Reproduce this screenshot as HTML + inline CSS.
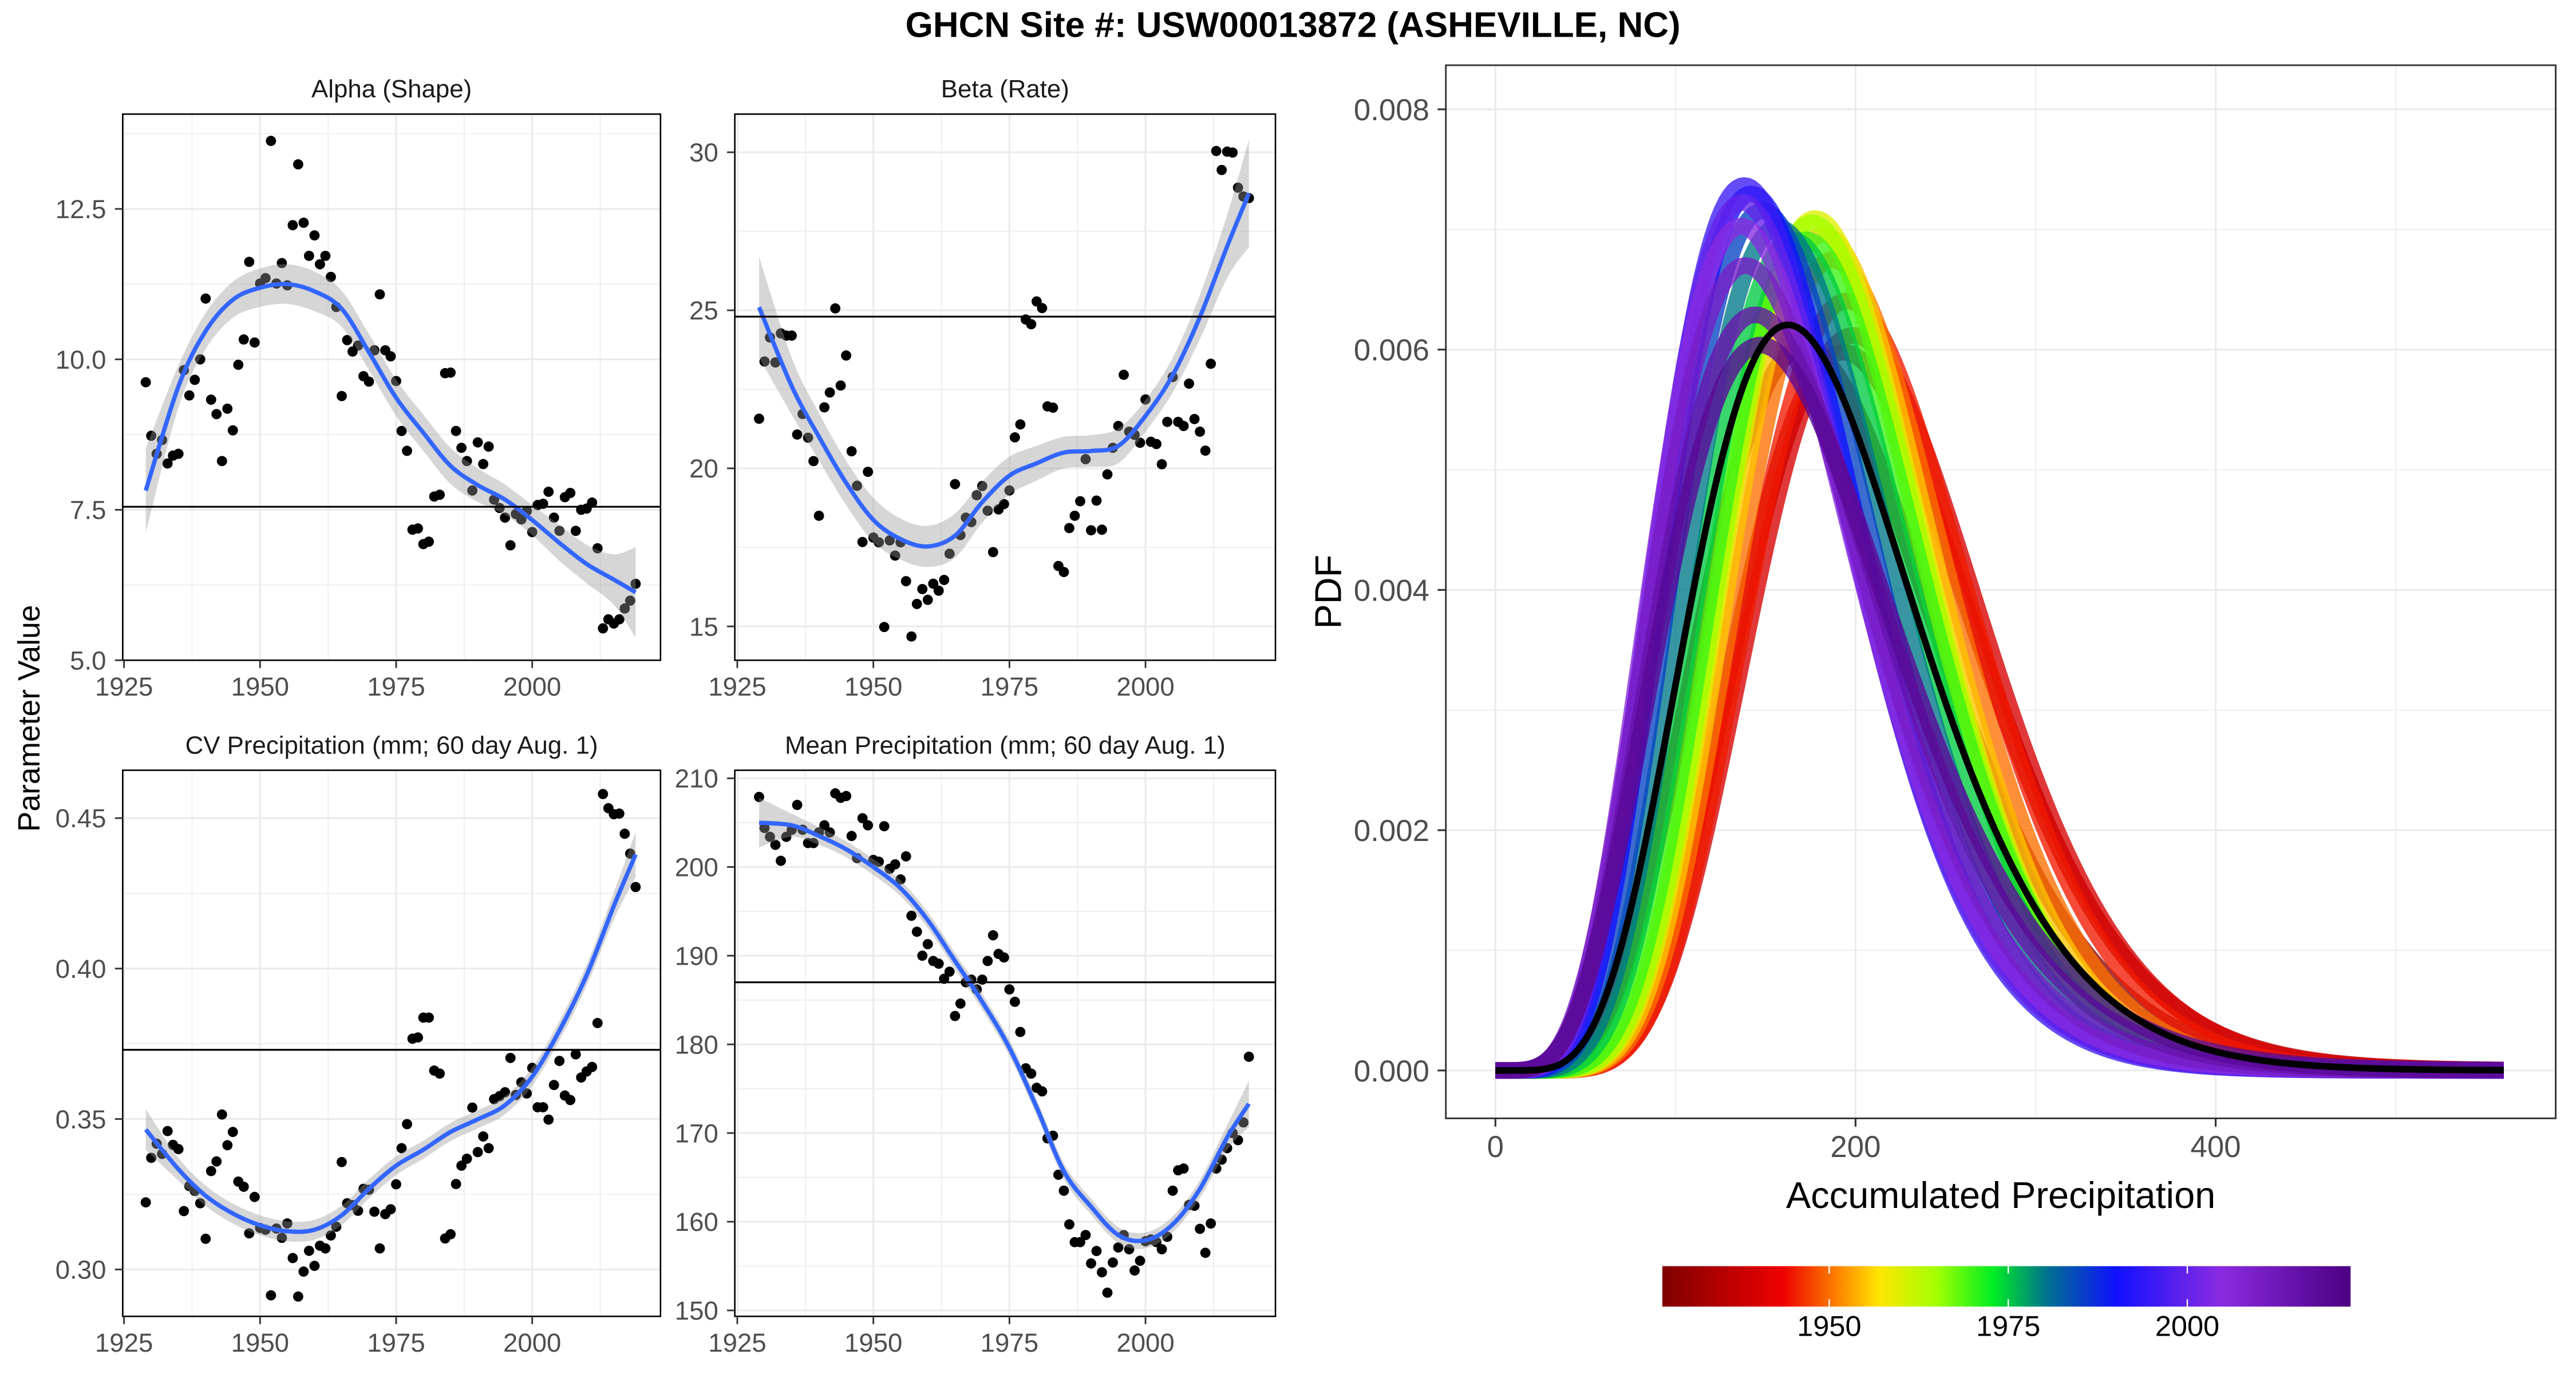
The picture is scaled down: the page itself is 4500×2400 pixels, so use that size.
<!DOCTYPE html>
<html><head><meta charset="utf-8">
<style>
html,body{margin:0;padding:0;background:#fff;}
svg{display:block;}
text{font-family:"Liberation Sans",Arial,sans-serif;}
</style></head>
<body>
<svg id="chart" xmlns="http://www.w3.org/2000/svg" width="4500" height="2400" viewBox="0 0 1560 832">
<rect x="0" y="0" width="1560" height="832" fill="#fff"/>
<text x="783" y="22.4" font-size="21.5" font-weight="bold" text-anchor="middle" fill="#000">GHCN Site #: USW00013872 (ASHEVILLE, NC)</text>
<text transform="translate(24,435) rotate(-90)" font-size="18.5" text-anchor="middle" fill="#000">Parameter Value</text>
<g id="panels"></g>
<g id="pdfpanel"></g>
</svg>
<script>
// ---------- data ----------
const firstYear = 1929;
const alphaPts = [9.62,8.73,8.43,8.66,8.27,8.40,8.43,9.82,9.40,9.66,
10.0,11.01,9.33,9.09,8.31,9.18,8.82,9.91,10.33,11.62,
10.28,11.26,11.35,13.63,11.26,11.6,11.23,12.23,13.24,12.27,
11.72,12.06,11.58,11.72,11.37,10.87,9.39,10.32,10.13,10.23,
9.72,9.63,10.15,11.08,10.15,10.05,9.64,8.81,8.48,7.17,
7.19,6.93,6.97,7.72,7.75,9.77,9.78,8.81,8.53,8.31,
7.82,8.62,8.26,8.55,7.67,7.53,7.37,6.91,7.43,7.34,
7.48,7.13,7.58,7.60,7.80,7.37,7.15,7.71,7.78,7.15,
7.50,7.52,7.62,6.86,5.53,5.68,5.61,5.68,5.86,5.99,6.27];
const betaPts = [21.57,23.38,24.14,23.35,24.27,24.2,24.2,21.07,21.72,20.97,
20.23,18.5,21.93,22.4,25.06,22.62,23.57,20.54,19.45,17.67,
19.89,17.81,17.66,14.98,17.72,17.24,17.66,16.43,14.68,15.71,
16.18,15.84,16.35,16.13,16.47,17.3,19.5,17.89,18.44,18.3,
19.15,19.44,18.66,17.35,18.7,18.87,19.3,20.98,21.39,24.71,
24.56,25.28,25.07,21.96,21.92,16.91,16.72,18.11,18.5,18.96,
20.29,18.04,18.98,18.06,19.81,20.65,21.34,22.96,21.16,21.06,
20.81,22.18,20.84,20.77,20.13,21.47,22.89,21.47,21.34,22.68,
21.56,21.16,20.56,23.31,30.04,29.44,30.02,29.99,28.88,28.6,28.55];
const cvPts = [0.3223,0.3371,0.3418,0.3384,0.346,0.3414,0.340,0.3194,0.3277,0.3261,
0.322,0.3102,0.3327,0.3359,0.3515,0.3413,0.3457,0.3292,0.3275,0.312,
0.3241,0.3138,0.3132,0.2914,0.3136,0.3105,0.3153,0.3038,0.291,0.2993,
0.3062,0.3012,0.3079,0.307,0.3113,0.3142,0.3357,0.322,0.3214,0.3195,
0.3268,0.3265,0.3192,0.307,0.3184,0.32,0.3283,0.3403,0.3483,0.3767,
0.3771,0.3837,0.3837,0.3661,0.3651,0.3103,0.3117,0.3284,0.3345,0.3368,
0.3538,0.339,0.3442,0.3403,0.3566,0.3576,0.3589,0.3703,0.358,0.3622,
0.3585,0.367,0.3539,0.3539,0.3498,0.3613,0.3693,0.3578,0.3563,0.3715,
0.3638,0.3658,0.3673,0.3819,0.458,0.4533,0.4513,0.4515,0.4448,0.4382,0.4271];
const meanPts = [207.9,204.4,203.4,202.5,200.7,203.4,204.2,207.0,204.2,202.7,
202.7,203.9,204.7,203.9,208.3,207.8,208.0,203.5,201.0,205.5,
204.7,200.8,200.6,204.6,199.8,200.3,198.6,201.2,194.5,192.7,
190.0,191.3,189.4,189.1,187.4,188.2,183.2,184.6,187.0,187.3,
186.2,187.3,189.4,192.3,190.2,189.8,186.2,184.8,181.4,177.3,
176.7,175.1,174.7,169.4,169.7,165.3,163.5,159.7,157.7,157.7,
158.5,155.3,156.7,154.3,152.0,155.4,157.1,158.5,156.9,154.5,
155.6,157.8,158.0,157.7,156.9,158.3,163.5,165.8,166.0,161.9,
161.8,159.2,156.5,159.8,166.0,167.0,168.3,170.0,169.2,171.2,178.6];

const smoothYears = [1929,1935,1940,1945,1950,1955,1960,1965,1970,1975,1980,1985,1990,1995,2000,2005,2010,2015,2019];
const alphaSmooth = [7.82,9.55,10.47,10.99,11.19,11.25,11.13,10.84,10.12,9.36,8.78,8.23,7.91,7.67,7.33,6.95,6.6,6.34,6.13];
const alphaSE = [0.7,0.35,0.3,0.3,0.32,0.33,0.33,0.3,0.3,0.3,0.3,0.3,0.28,0.25,0.25,0.3,0.32,0.42,0.75];
const betaSmooth = [25.1,22.6,21.0,19.54,18.37,17.76,17.53,17.87,18.93,19.77,20.16,20.5,20.55,20.71,21.66,22.95,24.79,27.02,28.7];
const betaSE = [1.6,0.9,0.75,0.7,0.7,0.65,0.65,0.7,0.65,0.6,0.55,0.5,0.5,0.55,0.5,0.55,0.7,1.0,1.7];
const cvSmooth = [0.3465,0.3333,0.3245,0.3186,0.3147,0.3127,0.3132,0.318,0.3268,0.3345,0.3398,0.3457,0.3499,0.3546,0.3641,0.3794,0.3978,0.4208,0.4379];
const cvSE = [0.0068,0.0038,0.0034,0.0033,0.0033,0.0033,0.0033,0.0032,0.0032,0.0031,0.003,0.003,0.003,0.003,0.003,0.0032,0.0035,0.0045,0.0075];
const meanSmooth = [205.0,204.7,203.5,202.0,200.0,197.6,194.0,189.4,184.8,179.6,172.9,165.7,161.7,158.5,157.9,159.7,163.7,169.5,173.3];
const meanSE = [2.8,1.3,1.0,0.9,0.9,0.9,0.9,0.9,0.9,0.9,0.9,0.9,0.9,0.9,0.9,0.9,1.0,1.4,2.6];

const refAlpha = 7.55, refBeta = 24.8, refCV = 0.373, refMean = 187.0;

const yearTicks = [1925,1950,1975,2000];
const alphaTicks = [5.0,7.5,10.0,12.5];
const betaTicks = [15,20,25,30];
const cvTicks = [0.30,0.35,0.40,0.45];
const meanTicks = [150,160,170,180,190,200,210];
const pdfXTicks = [0,200,400];
const pdfYTicks = [0.000,0.002,0.004,0.006,0.008];

// ---------- helpers ----------
const NS = "http://www.w3.org/2000/svg";
function mk(tag, attrs, parent){
  const e = document.createElementNS(NS, tag);
  for (const k in attrs) e.setAttribute(k, attrs[k]);
  parent.appendChild(e);
  return e;
}
function crPath(pts){
  let d = "M"+pts[0][0].toFixed(2)+","+pts[0][1].toFixed(2);
  for (let i=0;i<pts.length-1;i++){
    const p0=pts[i-1]||pts[i], p1=pts[i], p2=pts[i+1], p3=pts[i+2]||pts[i+1];
    const c1=[p1[0]+(p2[0]-p0[0])/6, p1[1]+(p2[1]-p0[1])/6];
    const c2=[p2[0]-(p3[0]-p1[0])/6, p2[1]-(p3[1]-p1[1])/6];
    d+=" C"+c1[0].toFixed(2)+","+c1[1].toFixed(2)+" "+c2[0].toFixed(2)+","+c2[1].toFixed(2)+" "+p2[0].toFixed(2)+","+p2[1].toFixed(2);
  }
  return d;
}

const panelsG = document.getElementById("panels");

function drawPanel(cfg){
  const g = mk("g", {}, panelsG);
  
  
  const xs = v => cfg.xAt0 + (v - cfg.xV0) * cfg.xK;
  const ys = v => cfg.yAt0 + (cfg.yV0 - v) * cfg.yK;
  mk("rect", {x:cfg.x0, y:cfg.y0, width:cfg.x1-cfg.x0, height:cfg.y1-cfg.y0, fill:"#fff"}, g);
  const grid = mk("g", {}, g);
  
  
  for (let i=0;i<yearTicks.length;i++){
    const t = yearTicks[i];
    mk("line",{x1:xs(t),x2:xs(t),y1:cfg.y0,y2:cfg.y1,stroke:"#ebebeb","stroke-width":1.1},grid);
    const m = t+12.5; const mx = xs(m);
    if (mx<cfg.x1) mk("line",{x1:mx,x2:mx,y1:cfg.y0,y2:cfg.y1,stroke:"#ebebeb","stroke-width":0.55},grid);
  }
  const ticks = cfg.ticks;
  const step = ticks[1]-ticks[0];
  for (let i=-1;i<ticks.length;i++){
    const base = i<0 ? ticks[0]-step : ticks[i];
    const mid = base + step/2;
    const my = ys(mid);
    if (my>cfg.y0 && my<cfg.y1) mk("line",{x1:cfg.x0,x2:cfg.x1,y1:my,y2:my,stroke:"#ebebeb","stroke-width":0.55},grid);
  }
  for (const t of ticks){
    const y = ys(t);
    if (y>=cfg.y0-0.5 && y<=cfg.y1+0.5) mk("line",{x1:cfg.x0,x2:cfg.x1,y1:y,y2:y,stroke:"#ebebeb","stroke-width":1.1},grid);
  }
  const ptsG = mk("g", {}, g);
  
  
  cfg.pts.forEach((v,i)=>{
    const c = mk("circle",{cx:xs(firstYear+i).toFixed(2), cy:ys(v).toFixed(2), r:3.1, fill:"#000"}, ptsG);
    
    
  });
  const upper = smoothYears.map((yr,i)=>[xs(yr), ys(cfg.smooth[i]+cfg.se[i])]);
  const lower = smoothYears.map((yr,i)=>[xs(yr), ys(cfg.smooth[i]-cfg.se[i])]).reverse();
  const rib = mk("path",{d: crPath(upper) + " L" + crPath(lower).slice(1) + " Z", fill:"#999999", "fill-opacity":0.4}, g);
  
  
  const line = mk("path",{d: crPath(smoothYears.map((yr,i)=>[xs(yr), ys(cfg.smooth[i])])), fill:"none", stroke:"#3366FF","stroke-width":2.6}, g);
  
  
  const hl = mk("line",{x1:cfg.x0,x2:cfg.x1,y1:ys(cfg.ref),y2:ys(cfg.ref),stroke:"#000","stroke-width":1.1}, g);
  
  
  mk("rect",{x:cfg.x0,y:cfg.y0,width:cfg.x1-cfg.x0,height:cfg.y1-cfg.y0,fill:"none",stroke:"#000","stroke-width":0.9}, g);
  const ax = mk("g", {}, g);
  
  
  for (const t of ticks){
    const y = ys(t);
    mk("line",{x1:cfg.x0-4.7,x2:cfg.x0,y1:y,y2:y,stroke:"#333","stroke-width":1},ax);
    const tx = mk("text",{x:cfg.x0-10,y:y+5.6,"font-size":15.8,"text-anchor":"end",fill:"#4d4d4d"},ax);
    tx.textContent = cfg.fmt(t);
  }
  const axx = mk("g", {}, g);
  
  
  for (const t of yearTicks){
    const x = xs(t);
    mk("line",{x1:x,x2:x,y1:cfg.y1,y2:cfg.y1+4.7,stroke:"#333","stroke-width":1},axx);
    const tx = mk("text",{x:x,y:cfg.y1+21.4,"font-size":15.8,"text-anchor":"middle",fill:"#4d4d4d"},axx);
    tx.textContent = String(t);
  }
  const st = mk("text",{x:(cfg.x0+cfg.x1)/2, y:cfg.y0-10.1, "font-size":15.2, "text-anchor":"middle", fill:"#1a1a1a"}, g);
  
  
  st.textContent = cfg.title;
}

drawPanel({name:"alpha", title:"Alpha (Shape)", x0:74.3,x1:400,y0:69.1,y1:399.8,
  xAt0:75.1,xV0:1925,xK:3.296, yAt0:126.5,yV0:12.5,yK:36.44,
  ticks:alphaTicks, fmt:t=>t.toFixed(1), pts:alphaPts, smooth:alphaSmooth, se:alphaSE, ref:refAlpha});
drawPanel({name:"beta", title:"Beta (Rate)", x0:445,x1:772.4,y0:69.1,y1:399.8,
  xAt0:446.5,xV0:1925,xK:3.296, yAt0:92.2,yV0:30,yK:19.14,
  ticks:betaTicks, fmt:t=>String(t), pts:betaPts, smooth:betaSmooth, se:betaSE, ref:refBeta});
drawPanel({name:"cv", title:"CV Precipitation (mm; 60 day Aug. 1)", x0:74.3,x1:400,y0:466.4,y1:797.1,
  xAt0:75.1,xV0:1925,xK:3.296, yAt0:495.4,yV0:0.45,yK:1822,
  ticks:cvTicks, fmt:t=>t.toFixed(2), pts:cvPts, smooth:cvSmooth, se:cvSE, ref:refCV});
drawPanel({name:"mean", title:"Mean Precipitation (mm; 60 day Aug. 1)", x0:445,x1:772.4,y0:466.4,y1:797.1,
  xAt0:446.5,xV0:1925,xK:3.296, yAt0:471.3,yV0:210,yK:5.37,
  ticks:meanTicks, fmt:t=>String(t), pts:meanPts, smooth:meanSmooth, se:meanSE, ref:refMean});

// ---------- PDF panel ----------
function lgamma(z){
  const c=[0.99999999999980993,676.5203681218851,-1259.1392167224028,771.32342877765313,-176.61502916214059,12.507343278686905,-0.13857109526572012,9.9843695780195716e-6,1.5056327351493116e-7];
  z-=1; let x=c[0]; for(let i=1;i<9;i++) x+=c[i]/(z+i);
  const t=z+7.5; return 0.5*Math.log(2*Math.PI)+(z+0.5)*Math.log(t)-t+Math.log(x);
}
function gammaPdf(x,k,th){
  if (x<=0) return 0;
  return Math.exp((k-1)*Math.log(x) - x/th - lgamma(k) - k*Math.log(th));
}
const colorStops = [[0,[127,0,0]],[0.175,[238,0,0]],[0.26,[255,140,0]],[0.315,[255,230,0]],[0.40,[160,255,0]],[0.48,[0,238,34]],[0.56,[0,112,144]],[0.66,[16,16,255]],[0.81,[138,43,226]],[1.0,[75,0,130]]];
const cbYear0 = 1926.7, cbYear1 = 2022.8;
function yearColor(yr){
  const f = Math.max(0,Math.min(1,(yr-cbYear0)/(cbYear1-cbYear0)));
  for (let i=0;i<colorStops.length-1;i++){
    const a=colorStops[i], b=colorStops[i+1];
    if (f<=b[0]){
      const u=(f-a[0])/(b[0]-a[0]);
      const c=a[1].map((v,j)=>Math.round(v+(b[1][j]-v)*u));
      return "rgb("+c.join(",")+")";
    }
  }
  return "rgb(75,0,130)";
}

(function(){
  const g = document.getElementById("pdfpanel");
  
  
  const X0=875.6, X1=1547.7, Y0=39.5, Y1=677.2;
  const xs = v => 905.6 + v*1.0905;
  const ys = p => 648.2 - p*72750;
  mk("rect",{x:X0,y:Y0,width:X1-X0,height:Y1-Y0,fill:"#fff"},g);
  const grid = mk("g",{},g);
  
  
  for (const v of [100,300,500]) mk("line",{x1:xs(v),x2:xs(v),y1:Y0,y2:Y1,stroke:"#ebebeb","stroke-width":0.55},grid);
  for (const v of pdfXTicks) mk("line",{x1:xs(v),x2:xs(v),y1:Y0,y2:Y1,stroke:"#ebebeb","stroke-width":1.1},grid);
  for (const v of [0.001,0.003,0.005,0.007]) mk("line",{x1:X0,x2:X1,y1:ys(v),y2:ys(v),stroke:"#ebebeb","stroke-width":0.55},grid);
  for (const v of pdfYTicks) mk("line",{x1:X0,x2:X1,y1:ys(v),y2:ys(v),stroke:"#ebebeb","stroke-width":1.1},grid);

  const curves = mk("g",{},g);
  
  
  function curvePath(k,th){
    let d="";
    for (let x=0;x<=561;x+=2){
      d += (x===0?"M":" L")+xs(x).toFixed(2)+","+ys(gammaPdf(x,k,th)).toFixed(2);
    }
    return d;
  }
  smoothYears.forEach((yr,i)=>{
    const p = mk("path",{d:curvePath(alphaSmooth[i],betaSmooth[i]),fill:"none",stroke:yearColor(yr),"stroke-width":10,"stroke-opacity":0.78,"stroke-linejoin":"round"},curves);
    
    
  });
  const bl = mk("path",{d:curvePath(refAlpha,refBeta),fill:"none",stroke:"#000","stroke-width":4}, g);
  
  

  mk("rect",{x:X0,y:Y0,width:X1-X0,height:Y1-Y0,fill:"none",stroke:"#333","stroke-width":1},g);

  const ax = mk("g",{},g);
  
  
  for (const v of pdfXTicks){
    mk("line",{x1:xs(v),x2:xs(v),y1:Y1,y2:Y1+5,stroke:"#333","stroke-width":1.1},ax);
    const t = mk("text",{x:xs(v),y:700.6,"font-size":18.3,"text-anchor":"middle",fill:"#4d4d4d"},ax);
    t.textContent = String(v);
  }
  const ay = mk("g",{},g);
  
  
  for (const v of pdfYTicks){
    mk("line",{x1:X0-5,x2:X0,y1:ys(v),y2:ys(v),stroke:"#333","stroke-width":1.1},ay);
    const t = mk("text",{x:X0-10,y:ys(v)+6.6,"font-size":18.3,"text-anchor":"end",fill:"#4d4d4d"},ay);
    t.textContent = v.toFixed(3);
  }
  const xl = mk("text",{x:(X0+X1)/2,y:731.5,"font-size":22.5,"text-anchor":"middle",fill:"#000"},g);
  
  
  xl.textContent = "Accumulated Precipitation";
  const yl = mk("text",{transform:"translate(812,"+((Y0+Y1)/2)+") rotate(-90)","font-size":22.5,"text-anchor":"middle",fill:"#000"},g);
  
  
  yl.textContent = "PDF";

  const CB0=1006.7, CB1=1423.5, CBT=766.7, CBB=791.2;
  const cbx = yr => CB0 + (yr-cbYear0)/(cbYear1-cbYear0)*(CB1-CB0);
  const defs = mk("defs",{},g);
  const lg = mk("linearGradient",{id:"cbgrad",x1:"0",x2:"1",y1:"0",y2:"0"},defs);
  colorStops.forEach(s=>{ mk("stop",{offset:s[0],"stop-color":"rgb("+s[1].join(",")+")"},lg); });
  const cb = mk("g",{},g);
  
  
  mk("rect",{x:CB0,y:CBT,width:CB1-CB0,height:CBB-CBT,fill:"url(#cbgrad)"},cb);
  for (const yr of [1950,1975,2000]){
    const x = cbx(yr);
    mk("line",{x1:x,x2:x,y1:CBT,y2:CBT+4.5,stroke:"#fff","stroke-width":0.8},cb);
    mk("line",{x1:x,x2:x,y1:CBB-4.5,y2:CBB,stroke:"#fff","stroke-width":0.8},cb);
    const t = mk("text",{x:x,y:809,"font-size":17.5,"text-anchor":"middle",fill:"#000"},cb);
    t.textContent = String(yr);
  }
})();
</script>
</body></html>
